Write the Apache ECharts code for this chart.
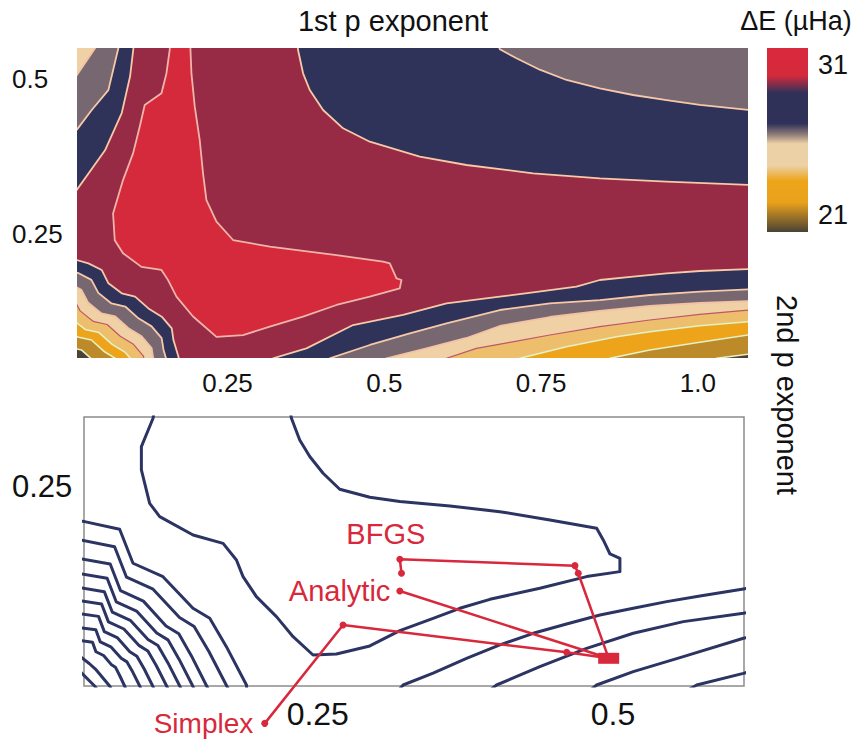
<!DOCTYPE html>
<html><head><meta charset="utf-8">
<script src="https://cdn.jsdelivr.net/npm/echarts@6/dist/echarts.min.js"></script>
<style>html,body{margin:0;padding:0;background:#fff}#chart{width:857px;height:740px}</style>
</head><body><div id="chart"></div>
<script>
// ---------- tick labels ----------
const topXTicks = [0.25, 0.5, 0.75, 1.0];
const topXTickLabels = ['0.25', '0.5', '0.75', '1.0'];
const topYTicks = [0.25, 0.5];
const topYTickLabels = ['0.25', '0.5'];
const zoomXTicks = [0.25, 0.5];
const zoomXTickLabels = ['0.25', '0.5'];
const zoomYTicks = [0.25];
const zoomYTickLabels = ['0.25'];
const colorbarTicks = [21, 31];
const colorbarTickLabels = ['21', '31'];
const colorbarExtent = [19.87, 32.13];

// ---------- top panel: filled contour regions (value >= level), [1st exponent, 2nd exponent] ----------
const region1 = [[-0.1,0.6],[-0.1,0.122],[-0.076,0.122],[-0.058,0.117],[-0.037,0.106],[-0.026,0.085],[-0.005,0.068],[0.017,0.063],[0.038,0.044],[0.059,0.031],[1.02,0.03],[1.0298,0.0495],[1.0802,0.056],[1.1,0.058],[1.1,0.6]];
const region2 = [[-0.1,0.6],[-0.1,0.138],[-0.06,0.138],[-0.042,0.133],[-0.021,0.122],[-0.010,0.101],[0.011,0.084],[0.033,0.079],[0.054,0.060],[0.075,0.047],[0.091,0.028],[0.85,0.03],[0.8596,0.0495],[0.9235,0.0629],[1.0032,0.0753],[1.0802,0.0871],[1.1,0.088],[1.1,0.6]];
const region3 = [[-0.1,0.6],[-0.1,0.150],[-0.048,0.150],[-0.030,0.145],[-0.009,0.134],[0.002,0.113],[0.023,0.096],[0.045,0.091],[0.066,0.072],[0.087,0.059],[0.103,0.040],[0.11,0.03],[0.70,0.03],[0.7161,0.0495],[0.7906,0.0682],[0.8703,0.0844],[0.9235,0.0924],[1.0032,0.1021],[1.0802,0.1085],[1.1,0.109],[1.1,0.6]];
const region4 = [[-0.1,0.6],[-0.1,0.163],[-0.035,0.163],[-0.017,0.158],[0.004,0.147],[0.015,0.126],[0.036,0.109],[0.058,0.104],[0.079,0.085],[0.100,0.072],[0.116,0.053],[0.119,0.034],[0.58,0.03],[0.5992,0.0495],[0.647,0.0656],[0.7002,0.0753],[0.764,0.0871],[0.8437,0.1005],[0.9235,0.1113],[1.0032,0.1205],[1.0802,0.1274],[1.1,0.128],[1.1,0.6]];
const region5 = [[0.045,0.56],[0.039,0.55],[0.0096,0.506],[-0.02,0.47],[-0.03,0.176],[-0.022,0.176],[-0.004,0.171],[0.017,0.160],[0.028,0.139],[0.049,0.122],[0.071,0.117],[0.092,0.098],[0.113,0.085],[0.129,0.066],[0.132,0.047],[0.140,0.020],[0.48,0.03],[0.5035,0.0495],[0.5673,0.0656],[0.6311,0.0823],[0.6842,0.1016],[0.764,0.1161],[0.8437,0.1258],[0.9235,0.1339],[1.0032,0.1387],[1.0802,0.1419],[1.1,0.142],[1.1,0.56]];
const region6 = [[0.077,0.56],[0.076,0.55],[0.060,0.482],[0.0335,0.45],[0.0096,0.418],[-0.02,0.40],[-0.02,0.19],[-0.006,0.192],[0.012,0.187],[0.033,0.176],[0.044,0.155],[0.065,0.138],[0.087,0.133],[0.108,0.114],[0.129,0.101],[0.145,0.082],[0.148,0.063],[0.156,0.036],[0.40,0.035],[0.4131,0.0495],[0.4769,0.071],[0.5407,0.0898],[0.5992,0.106],[0.6842,0.1274],[0.764,0.1382],[0.8437,0.1435],[0.9235,0.1516],[1.0032,0.1569],[1.0802,0.1608],[1.1,0.161],[1.1,0.448],[1.0829,0.45],[1.0032,0.4581],[0.9501,0.4661],[0.8968,0.4742],[0.8437,0.485],[0.7906,0.4984],[0.748,0.515],[0.7108,0.5335],[0.6842,0.5479],[0.68,0.56]];
const region7 = [[0.101,0.56],[0.100,0.55],[0.0946,0.504],[0.0813,0.445],[0.0547,0.385],[0.0096,0.321],[-0.02,0.30],[-0.02,0.21],[0.0096,0.208],[0.0282,0.2027],[0.0494,0.192],[0.0601,0.1705],[0.0813,0.1544],[0.1026,0.149],[0.1239,0.130],[0.1451,0.1166],[0.1611,0.0979],[0.1638,0.079],[0.1718,0.052],[0.174,0.04],[0.315,0.035],[0.3226,0.0495],[0.3759,0.0656],[0.4502,0.1032],[0.53,0.1194],[0.5992,0.1382],[0.6842,0.1489],[0.7373,0.156],[0.8065,0.165],[0.8437,0.1758],[0.8968,0.1811],[0.9501,0.1866],[1.0032,0.1903],[1.08,0.1935],[1.1,0.194],[1.1,0.329],[1.083,0.329],[0.950,0.3344],[0.8437,0.3398],[0.7373,0.3479],[0.6311,0.3613],[0.5566,0.3747],[0.53,0.3827],[0.4769,0.3989],[0.4343,0.4205],[0.4024,0.45],[0.3812,0.4823],[0.3705,0.5092],[0.3625,0.5468],[0.361,0.56]];
const region8 = [[0.157,0.56],[0.158,0.548],[0.1526,0.509],[0.1447,0.477],[0.118,0.458],[0.110,0.423],[0.0994,0.380],[0.0834,0.337],[0.0675,0.283],[0.0702,0.240],[0.0834,0.219],[0.1128,0.197],[0.1447,0.192],[0.155,0.176],[0.1686,0.149],[0.195,0.117],[0.2324,0.084],[0.2748,0.087],[0.3174,0.1005],[0.3705,0.1166],[0.4238,0.1355],[0.4769,0.149],[0.5247,0.1624],[0.5274,0.1758],[0.5195,0.1785],[0.5088,0.2027],[0.4981,0.2053],[0.4238,0.2161],[0.3174,0.2295],[0.2589,0.2403],[0.2324,0.2698],[0.2164,0.3048],[0.211,0.3479],[0.2057,0.4016],[0.1978,0.4553],[0.1925,0.509],[0.1909,0.548],[0.191,0.56]];
const topRegions = [region1, region2, region3, region4, region5, region6, region7, region8];

// ---------- bottom panel: contour lines ----------
const zoomContourInner = [[0.112,0.33],[0.1105,0.3187],[0.1006,0.2903],[0.1006,0.2669],[0.1076,0.2334],[0.1161,0.22],[0.1444,0.2016],[0.1698,0.1932],[0.1811,0.1765],[0.1867,0.1598],[0.198,0.1397],[0.215,0.1196],[0.2291,0.0995],[0.246,0.0811],[0.2658,0.0821],[0.2941,0.0902],[0.3195,0.1056],[0.3477,0.1179],[0.3703,0.128],[0.3958,0.137],[0.4381,0.1481],[0.4777,0.1598],[0.5059,0.1648],[0.5059,0.1782],[0.4975,0.1825],[0.4918,0.1966],[0.4862,0.2083],[0.4466,0.2167],[0.4042,0.225],[0.3619,0.2307],[0.3195,0.2351],[0.2941,0.2394],[0.2686,0.2475],[0.2545,0.2635],[0.2432,0.2803],[0.2347,0.297],[0.2277,0.3187],[0.226,0.33]];
const zoomContourA = [[0.318,0.045],[0.3223,0.051],[0.3477,0.063],[0.376,0.0778],[0.4042,0.0912],[0.4325,0.1029],[0.4607,0.1122],[0.489,0.1213],[0.5172,0.128],[0.5455,0.1347],[0.5737,0.1404],[0.6105,0.1474],[0.62,0.149]];
const zoomContourB = [[0.395,0.045],[0.4014,0.051],[0.4381,0.0694],[0.4777,0.0878],[0.5172,0.1029],[0.5596,0.1146],[0.6105,0.123],[0.62,0.125]];
const zoomContourC = [[0.48,0.045],[0.4862,0.051],[0.5172,0.0644],[0.5596,0.0795],[0.6105,0.0979],[0.62,0.1]];
const zoomContourD = [[0.565,0.047],[0.5709,0.051],[0.6105,0.0627],[0.62,0.066]];
const zoomCorner1 = [[0.045,0.216],[0.0525,0.215],[0.0822,0.2073],[0.0935,0.1732],[0.1189,0.1597],[0.1443,0.128],[0.1585,0.118],[0.1726,0.0895],[0.1896,0.051],[0.19,0.045]];
const zoomCorner2 = [[0.045,0.1975],[0.0779,0.1897],[0.088,0.1592],[0.1105,0.1472],[0.1329,0.1188],[0.1453,0.1098],[0.1579,0.0844],[0.1729,0.05],[0.175,0.045]];
const zoomCorner3 = [[0.045,0.1785],[0.0742,0.1725],[0.0829,0.1458],[0.1023,0.1352],[0.1215,0.1102],[0.1323,0.1024],[0.143,0.0802],[0.1559,0.05],[0.158,0.045]];
const zoomCorner4 = [[0.045,0.1635],[0.0716,0.1581],[0.0793,0.1345],[0.0965,0.1252],[0.1136,0.1032],[0.1231,0.0963],[0.1326,0.0767],[0.1441,0.05],[0.146,0.045]];
const zoomCorner5 = [[0.045,0.1494],[0.0692,0.1447],[0.076,0.1241],[0.0912,0.1159],[0.1062,0.0966],[0.1146,0.0906],[0.123,0.0734],[0.1331,0.05],[0.135,0.045]];
const zoomCorner6 = [[0.045,0.1363],[0.0669,0.1323],[0.0727,0.1144],[0.0858,0.1072],[0.0988,0.0905],[0.1061,0.0852],[0.1133,0.0703],[0.122,0.05],[0.124,0.045]];
const zoomCorner7 = [[0.045,0.1233],[0.0643,0.1199],[0.0692,0.1046],[0.0801,0.0986],[0.0908,0.0843],[0.0968,0.0799],[0.1029,0.0673],[0.1102,0.05],[0.112,0.045]];
const zoomCorner8 = [[0.045,0.1092],[0.062,0.1064],[0.0658,0.0942],[0.0747,0.0893],[0.0835,0.0778],[0.0884,0.0742],[0.0933,0.064],[0.0992,0.05],[0.101,0.045]];
const zoomCorner9 = [[0.045,0.0962],[0.0592,0.094],[0.0621,0.0844],[0.0686,0.0806],[0.075,0.0717],[0.0786,0.0689],[0.0821,0.0608],[0.0864,0.05],[0.088,0.045]];
const zoomCorner10 = [[0.045,0.0831],[0.0564,0.0726],[0.0624,0.0661],[0.0737,0.05],[0.076,0.045]];
const zoomCorner11 = [[0.045,0.0691],[0.061,0.05],[0.064,0.045]];
const zoomContours = [zoomContourInner, zoomContourA, zoomContourB, zoomContourC, zoomContourD,
  zoomCorner1, zoomCorner2, zoomCorner3, zoomCorner4, zoomCorner5, zoomCorner6, zoomCorner7, zoomCorner8, zoomCorner9, zoomCorner10, zoomCorner11];

// ---------- optimisation paths ----------
const simplexPath = [[0.2051,0.0125],[0.2714,0.1112],[0.4608,0.0838],[0.4964,0.0778]];
const analyticPath = [[0.3195,0.1454],[0.4964,0.0778]];
const bfgsPath = [[0.3209,0.1632],[0.3195,0.1772],[0.4678,0.1708],[0.4706,0.1632],[0.4964,0.0778]];
const optimumPoint = [[0.4964,0.0778]];

// ---------- styles ----------
const FONT = '"Liberation Sans", Arial, Helvetica, sans-serif';
const RED = '#d8283c';
const regionFill = ['#bd8a2a','#eea41a','#edbf6c','#efd1a5','#776770','#2f3259','#972b45','#d42a3b'];
const regionStroke = ['#e2f1c8','#e2f1c8','#e2f1c8','#c0566a','#f3c2a6','#f7c9a8','#f7c9a8','#f0b4aa'];
const regionStrokeWidth = [1.6,1.6,1.6,1.2,1.8,1.8,1.8,1.8];
const colorbarStops = [
  {offset:0.00,color:'#d82a3c'},{offset:0.15,color:'#d42a3c'},{offset:0.245,color:'#2f3159'},
  {offset:0.41,color:'#2f3159'},{offset:0.47,color:'#8e7c78'},{offset:0.52,color:'#ecd0a6'},
  {offset:0.64,color:'#ecd0a6'},{offset:0.72,color:'#eda61a'},{offset:0.84,color:'#e9a11c'},
  {offset:1.00,color:'#4a4234'}];

function labelFor(ticks, labels, v) {
  const i = ticks.findIndex(t => Math.abs(t - v) < 1e-9);
  return i >= 0 ? labels[i] : '';
}
function valueAxis(gridIndex, min, max, ticks, labels, extra) {
  return Object.assign({
    gridIndex, type: 'value', min, max,
    axisLine: {show: false}, axisTick: {show: false}, splitLine: {show: false},
    axisLabel: Object.assign({customValues: ticks, formatter: v => labelFor(ticks, labels, v),
      color: '#111', fontFamily: FONT}, extra.label || {})
  }, extra.axis || {});
}

const chart = echarts.init(document.getElementById('chart'), null, {renderer: 'svg'});

const series = [];
series.push({
  type: 'custom', xAxisIndex: 0, yAxisIndex: 0, clip: true, silent: true,
  data: topRegions.map(r => r[0]),
  renderItem: (params, api) => {
    const i = params.dataIndex;
    return {
      type: 'polygon',
      shape: {points: topRegions[i].map(p => api.coord(p))},
      style: {fill: regionFill[i], stroke: regionStroke[i], lineWidth: regionStrokeWidth[i], lineJoin: 'round'}
    };
  }
});
series.push({
  type: 'custom', xAxisIndex: 2, yAxisIndex: 2, clip: false, silent: true,
  data: [[0, colorbarExtent[0]]],
  renderItem: (params, api) => {
    const a = api.coord([0, colorbarExtent[1]]);
    const b = api.coord([1, colorbarExtent[0]]);
    return {type: 'rect', shape: {x: a[0], y: a[1], width: b[0] - a[0], height: b[1] - a[1]},
      style: {fill: new echarts.graphic.LinearGradient(0, 0, 0, 1, colorbarStops)}};
  }
});
zoomContours.forEach(c => series.push({
  type: 'line', xAxisIndex: 1, yAxisIndex: 1, data: c, showSymbol: false, symbol: 'none',
  clip: true, silent: true, lineStyle: {color: '#2b3462', width: 3, join: 'round'}, z: 2
}));
const redLabel = {color: RED, fontSize: 29, fontFamily: FONT, formatter: '{a}'};
function pathSeries(name, path, labelIndex, labelOpts) {
  return {
    type: 'line', name, xAxisIndex: 1, yAxisIndex: 1, clip: false, silent: true,
    symbol: 'circle', symbolSize: 7, showAllSymbol: true,
    itemStyle: {color: RED, opacity: 1}, lineStyle: {color: RED, width: 2.5}, z: 5,
    data: path.map((p, i) => {
      if (i === labelIndex) return {value: p, label: Object.assign({show: true}, redLabel, labelOpts)};
      if (i === path.length - 1) return {value: p, symbol: 'none'};
      return p;
    })
  };
}
series.push(pathSeries('Simplex', simplexPath, 0, {position: 'left', distance: 8, offset: [0, 0], fontSize: 28}));
series.push(pathSeries('Analytic', analyticPath, 0, {position: 'left', distance: 6}));
series.push(pathSeries('BFGS', bfgsPath, 1, {position: 'top', distance: 7, offset: [-14, 0]}));
series.push({type: 'scatter', xAxisIndex: 1, yAxisIndex: 1, data: optimumPoint, symbol: 'rect',
  symbolSize: [21, 11], itemStyle: {color: RED, opacity: 1}, z: 6, silent: true, clip: false});

const option = {
  animation: false,
  backgroundColor: '#ffffff',
  grid: [
    {left: 77, top: 48, width: 671, height: 310, show: true, backgroundColor: '#4b4136', borderWidth: 0, outerBoundsMode: 'none'},
    {left: 84, top: 417, width: 660, height: 269, show: true, backgroundColor: '#ffffff', borderColor: '#8c8c8c', borderWidth: 1.5, outerBoundsMode: 'none'},
    {left: 767, top: 48, width: 41, height: 184, show: false, outerBoundsMode: 'none'}
  ],
  xAxis: [
    valueAxis(0, 0.01, 1.08, topXTicks, topXTickLabels, {label: {fontSize: 26, margin: 12}}),
    valueAxis(1, 0.052, 0.611, zoomXTicks, zoomXTickLabels, {label: {fontSize: 32, margin: 12}}),
    {gridIndex: 2, type: 'value', min: 0, max: 1, show: false}
  ],
  yAxis: [
    valueAxis(0, 0.05, 0.55, topYTicks, topYTickLabels, {label: {fontSize: 26, margin: 65, align: 'left'}}),
    valueAxis(1, 0.05, 0.32, zoomYTicks, zoomYTickLabels, {label: {fontSize: 31, margin: 72, align: 'left'}}),
    valueAxis(2, colorbarExtent[0], colorbarExtent[1], colorbarTicks, colorbarTickLabels, {label: {fontSize: 27, margin: 10}, axis: {position: 'right'}})
  ],
  graphic: [
    {type: 'text', x: 393, y: 21, silent: true, style: {text: '1st p exponent', font: '29px ' + FONT, fill: '#111', align: 'center', verticalAlign: 'middle'}},
    {type: 'text', x: 796, y: 21, silent: true, style: {text: 'ΔE (µHa)', font: '27px ' + FONT, fill: '#111', align: 'center', verticalAlign: 'middle'}},
    {type: 'text', x: 787, y: 395, rotation: -Math.PI / 2, silent: true, style: {text: '2nd p exponent', font: '29px ' + FONT, fill: '#111', align: 'center', verticalAlign: 'middle'}}
  ],
  series
};
chart.setOption(option);
</script></body></html>
